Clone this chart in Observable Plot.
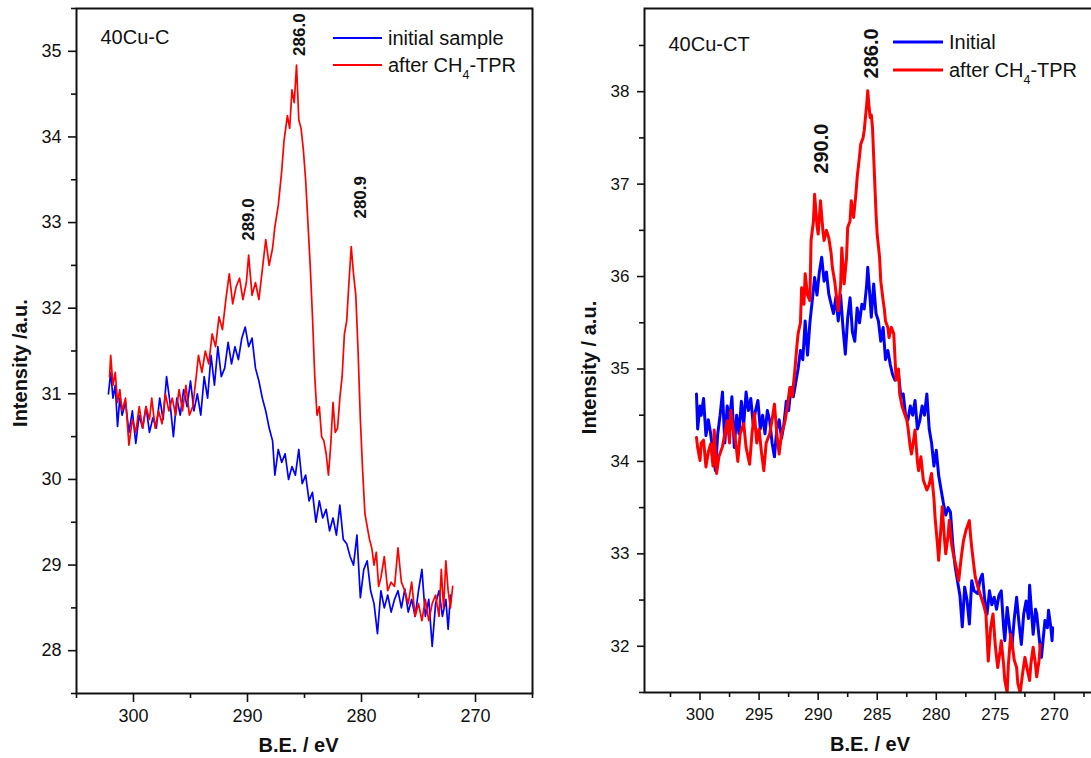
<!DOCTYPE html>
<html>
<head>
<meta charset="utf-8">
<script src="https://cdn.jsdelivr.net/npm/d3@7"></script>
<script src="https://cdn.jsdelivr.net/npm/@observablehq/plot@0.6"></script>
<style>
  html, body { margin: 0; padding: 0; background: #fff; overflow: hidden; }
  #wrap { position: relative; width: 1091px; height: 758px; overflow: hidden; background: #fff; }
  #left, #right { position: absolute; top: 0; height: 758px; }
  #left { left: 0; width: 545px; }
  #right { left: 545px; width: 580px; }
  #wrap svg { max-width: none !important; display: block; }
</style>
</head>
<body>
<div id="wrap"><div id="left"></div><div id="right"></div></div>
<script>
// ---------- Left panel: 40Cu-C ----------
const leftBlueE = [302.2,302.0,301.8,301.6,301.4,301.2,301.0,300.7,300.4,300.1,299.8,299.5,299.2,298.9,298.6,298.3,298.0,297.7,297.4,297.1,296.8,296.5,296.2,295.9,295.6,295.3,295.0,294.7,294.4,294.1,293.8,293.5,293.2,292.9,292.6,292.3,292.0,291.7,291.4,291.1,290.8,290.5,290.2,289.9,289.6,289.3,289.0,288.7,288.4,288.1,287.8,287.6,287.3,287.0,286.7,286.4,286.1,285.8,285.5,285.2,284.9,284.6,284.3,284.0,283.7,283.4,283.1,282.8,282.5,282.2,281.9,281.6,281.3,281.0,280.7,280.4,280.1,279.8,279.5,279.2,278.9,278.6,278.3,278.0,277.7,277.4,277.1,276.8,276.5,276.2,275.9,275.6,275.3,275.0,274.7,274.4,274.1,273.8,273.5,273.2,272.9,272.6,272.4,272.2];
const leftBlueI = [31.0,31.25,30.95,31.1,30.62,30.95,30.75,30.9,30.55,30.8,30.42,30.75,30.6,30.85,30.55,30.72,30.6,30.95,30.7,31.2,30.9,30.5,30.95,30.75,31.05,30.85,31.15,30.8,31.0,30.75,31.2,30.95,31.45,31.1,31.55,31.2,31.3,31.6,31.35,31.55,31.4,31.65,31.78,31.55,31.65,31.3,31.15,30.95,30.8,30.6,30.45,30.05,30.35,30.2,30.3,30.0,30.15,30.05,30.35,29.95,30.05,29.75,29.85,29.5,29.75,29.55,29.65,29.4,29.55,29.35,29.7,29.3,29.25,29.1,29.0,29.35,28.62,28.95,29.05,28.7,28.55,28.2,28.7,28.5,28.65,28.45,28.6,28.7,28.5,28.72,28.45,28.6,28.4,28.7,28.95,28.4,28.6,28.05,28.55,28.7,28.4,28.6,28.25,28.65];
const leftRedE = [302.1,302.0,301.8,301.6,301.4,301.2,301.0,300.7,300.4,300.1,299.8,299.5,299.2,298.9,298.6,298.4,298.1,297.8,297.5,297.2,296.9,296.6,296.3,296.0,295.7,295.4,295.1,294.8,294.5,294.3,294.0,293.7,293.4,293.1,292.8,292.5,292.2,291.9,291.6,291.3,291.0,290.7,290.4,290.1,289.9,289.6,289.3,289.0,288.7,288.4,288.1,287.8,287.6,287.3,287.0,286.8,286.5,286.3,286.1,285.9,285.7,285.5,285.3,285.1,284.9,284.7,284.5,284.3,284.1,283.9,283.7,283.5,283.3,283.1,282.9,282.7,282.5,282.3,282.1,281.9,281.7,281.5,281.3,281.1,280.9,280.7,280.5,280.3,280.1,279.9,279.7,279.5,279.3,279.1,278.9,278.7,278.5,278.3,278.0,277.7,277.4,277.1,276.8,276.5,276.2,275.9,275.6,275.3,275.0,274.7,274.4,274.1,273.8,273.5,273.2,273.0,272.8,272.6,272.4,272.2,272.0];
const leftRedI = [31.2,31.45,31.1,31.25,30.9,31.05,30.8,30.95,30.4,30.7,30.55,30.85,30.6,30.85,30.7,30.95,30.6,30.8,30.65,31.0,30.8,30.95,30.75,31.05,30.8,31.1,30.75,30.85,31.2,31.45,31.25,31.5,31.35,31.7,31.55,31.9,31.75,32.1,32.4,32.05,32.25,32.35,32.1,32.3,32.62,32.15,32.3,32.1,32.45,32.8,32.5,32.7,32.95,33.2,33.6,33.95,34.25,34.1,34.55,34.4,34.84,34.2,34.1,33.85,33.5,33.0,32.5,31.9,31.2,30.75,30.85,30.5,30.45,30.3,30.05,30.4,30.9,30.55,30.6,30.95,31.2,31.7,31.85,32.3,32.72,32.4,32.15,31.5,30.7,30.1,29.6,29.45,29.3,29.2,29.0,29.15,28.75,28.85,29.1,28.7,28.8,28.75,29.2,28.8,28.7,28.55,28.8,28.4,28.55,28.35,28.6,28.35,28.55,28.65,28.4,28.95,28.5,29.05,28.7,28.5,28.75];
const leftPeakE = [285.4, 289.9, 280.1];
const leftPeakI = [34.9, 32.74, 33.0];
const leftPeakText = ["286.0", "289.0", "280.9"];
const leftXMajor = [300, 290, 280, 270];
const leftXMinor = [305, 295, 285, 275, 265];
const leftYMajor = [28, 29, 30, 31, 32, 33, 34, 35];
const leftYMinor = [27.5, 28.5, 29.5, 30.5, 31.5, 32.5, 33.5, 34.5, 35.5];
const leftSeries = ["initial sample", "after CH4-TPR"];

// ---------- Right panel: 40Cu-CT ----------
const rightBlueE = [300.3,300.2,300.0,299.9,299.7,299.5,299.3,299.1,298.9,298.7,298.5,298.3,298.1,297.9,297.7,297.5,297.3,297.1,296.9,296.7,296.5,296.3,296.1,295.9,295.7,295.5,295.3,295.1,294.9,294.7,294.5,294.3,294.1,293.9,293.7,293.5,293.3,293.1,292.9,292.7,292.5,292.3,292.1,291.9,291.7,291.5,291.3,291.1,290.9,290.7,290.5,290.3,290.1,289.9,289.7,289.5,289.3,289.1,288.9,288.7,288.5,288.3,288.1,287.9,287.7,287.5,287.3,287.1,286.9,286.7,286.5,286.3,286.1,285.9,285.8,285.6,285.5,285.3,285.1,284.9,284.7,284.5,284.3,284.1,283.9,283.7,283.5,283.2,283.0,282.8,282.6,282.4,282.2,282.0,281.8,281.6,281.4,281.2,281.0,280.8,280.6,280.4,280.2,280.0,279.8,279.6,279.4,279.2,279.0,278.8,278.6,278.4,278.2,278.0,277.8,277.6,277.4,277.2,277.0,276.8,276.5,276.3,276.1,275.9,275.7,275.5,275.3,275.1,274.9,274.7,274.5,274.3,274.2,274.0,273.8,273.6,273.4,273.2,273.0,272.8,272.6,272.4,272.2,272.1,271.9,271.8,271.6,271.5,271.3,271.1,270.9,270.8,270.6,270.5,270.3,270.2,270.15];
const rightBlueI = [34.73,34.35,34.6,34.5,34.68,34.28,34.45,34.3,34.1,33.9,34.3,34.5,34.75,34.2,34.6,34.45,34.7,34.15,34.5,34.3,34.65,34.4,34.75,34.55,34.68,34.4,34.55,34.66,34.35,34.5,34.3,34.55,34.44,34.2,34.05,34.35,34.45,34.25,34.4,34.65,34.55,34.8,34.7,34.85,35.0,35.2,35.1,35.52,35.15,35.5,35.74,35.99,35.8,36.05,36.21,35.95,36.05,35.81,35.7,35.6,35.78,35.52,35.8,35.45,35.16,35.55,35.77,35.4,35.3,35.66,35.5,35.7,35.65,35.9,36.1,35.75,35.56,35.92,35.6,35.52,35.3,35.45,35.1,35.2,35.05,34.94,34.88,34.95,34.7,34.73,34.5,34.45,34.6,34.5,34.66,34.35,34.44,34.6,34.5,34.73,34.35,34.2,33.95,34.12,33.85,33.7,33.55,33.42,33.5,33.45,33.1,32.86,32.7,32.55,32.21,32.64,32.5,32.24,32.71,32.6,32.57,32.72,32.78,32.5,32.35,32.6,32.45,32.53,32.4,32.55,32.6,32.2,32.06,32.42,32.2,31.99,32.3,32.53,32.25,32.02,32.35,32.49,32.3,32.66,32.3,32.13,32.4,32.35,32.1,31.88,32.15,32.28,32.2,32.39,32.2,32.06,32.2];
const rightRedE = [300.3,300.2,300.0,299.9,299.7,299.5,299.3,299.1,298.9,298.8,298.6,298.4,298.1,297.9,297.7,297.5,297.4,297.2,297.0,296.8,296.6,296.3,296.1,295.8,295.6,295.4,295.2,295.0,294.8,294.6,294.4,294.1,293.9,293.7,293.5,293.3,293.1,292.8,292.6,292.4,292.2,292.0,291.8,291.7,291.5,291.4,291.2,291.1,290.9,290.7,290.6,290.4,290.3,290.1,290.0,289.8,289.6,289.5,289.3,289.1,288.9,288.8,288.6,288.5,288.3,288.1,288.0,287.8,287.6,287.5,287.3,287.2,287.0,286.8,286.7,286.5,286.4,286.2,286.1,285.9,285.8,285.7,285.6,285.5,285.4,285.3,285.1,285.0,284.8,284.7,284.5,284.4,284.3,284.1,284.0,283.8,283.6,283.4,283.2,283.1,282.9,282.7,282.5,282.4,282.2,282.1,281.9,281.8,281.6,281.5,281.3,281.1,280.8,280.6,280.4,280.2,280.1,279.9,279.8,279.6,279.5,279.3,279.2,279.0,278.9,278.7,278.5,278.3,278.1,277.9,277.7,277.5,277.2,277.1,277.0,276.8,276.7,276.5,276.2,276.0,275.8,275.7,275.6,275.4,275.2,275.0,274.8,274.6,274.5,274.3,274.2,274.0,273.9,273.7,273.5,273.4,273.2,273.1,272.9,272.7,272.5,272.3,272.1,272.0,271.8,271.6,271.5,271.3,271.2];
const rightRedI = [34.26,34.15,34.01,34.2,34.23,33.94,34.1,34.19,33.95,34.34,33.87,34.05,34.16,34.3,34.44,34.2,34.55,34.35,34.23,34.0,34.3,34.41,34.15,33.97,34.3,34.52,34.2,34.35,34.1,33.9,34.2,34.3,34.45,34.62,34.3,34.08,34.3,34.44,34.6,34.8,34.7,34.95,35.25,35.38,35.5,35.88,35.7,36.03,35.8,35.74,36.39,36.6,36.89,36.55,36.46,36.82,36.5,36.39,36.5,36.42,36.25,36.1,35.95,35.84,35.63,35.9,36.31,35.92,36.2,36.53,36.6,36.82,36.64,36.9,37.07,37.3,37.43,37.5,37.58,37.85,38.01,37.85,37.72,37.75,37.61,37.3,36.68,36.45,36.21,35.95,35.74,35.65,35.52,35.45,35.34,35.45,35.38,34.88,35.0,34.73,34.6,34.52,34.45,34.37,34.15,34.08,34.25,34.34,34.0,33.9,34.05,33.8,33.69,33.75,33.87,33.6,33.39,33.1,32.93,33.3,33.51,33.15,33.0,33.2,33.36,33.1,32.96,32.85,32.71,32.95,33.14,33.25,33.36,33.2,33.07,32.85,32.75,32.65,32.53,32.45,32.35,32.1,31.84,32.2,32.35,32.0,31.77,31.95,32.06,31.8,31.63,31.5,31.8,32.13,31.95,31.85,31.77,31.6,31.5,31.7,31.88,31.75,31.63,31.8,31.99,31.8,31.67,31.85,32.02];
const rightPeakE = [285.5, 289.7];
const rightPeakI = [38.1, 37.07];
const rightPeakText = ["286.0", "290.0"];
const rightXMajor = [300, 295, 290, 285, 280, 275, 270];
const rightXMinor = [302.5, 297.5, 292.5, 287.5, 282.5, 277.5, 272.5, 267.5];
const rightYMajor = [32, 33, 34, 35, 36, 37, 38];
const rightYMinor = [31.5, 32.5, 33.5, 34.5, 35.5, 36.5, 37.5, 38.5];
const rightSeries = ["Initial", "after CH4-TPR"];

const BLUE = "#0000ff", RED = "#ff0000";
const FONT = "'Liberation Sans', Arial, Helvetica, sans-serif";
const pts = (E, I) => E.map((e, i) => ({E: e, I: I[i]}));
const peaks = (E, I, T) => E.map((e, i) => ({E: e, I: I[i], t: T[i]}));

function addLegend(svg, x0, y0, rowH, lineLen, fontSize, sw, labels) {
  const g = d3.select(svg).append("g")
    .attr("font-family", FONT).attr("font-size", fontSize).attr("text-anchor", "start");
  [BLUE, RED].forEach((c, i) => {
    const y = y0 + i * rowH;
    g.append("line").attr("x1", x0).attr("x2", x0 + lineLen).attr("y1", y).attr("y2", y)
      .attr("stroke", c).attr("stroke-width", sw);
    const t = g.append("text").attr("x", x0 + lineLen + 6).attr("y", y).attr("dy", "0.36em")
      .attr("fill", "#111").attr("text-anchor", "start");
    const lab = labels[i];
    const m = lab.match(/^(.*CH)4(.*)$/);
    if (m) {
      t.append("tspan").text(m[1]);
      t.append("tspan").attr("font-size", fontSize * 0.62).attr("dy", 7).text("4");
      t.append("tspan").attr("dy", -7).text(m[2]);
    } else {
      t.text(lab);
    }
  });
}

// ----- Left plot -----
const left = Plot.plot({
  width: 545, height: 758,
  marginLeft: 76, marginRight: 13, marginTop: 8, marginBottom: 65,
  x: {domain: [305, 265]},
  y: {domain: [27.5, 35.5]},
  style: {fontFamily: FONT, background: "#fff", color: "#111"},
  marks: [
    Plot.line(pts(leftBlueE, leftBlueI), {x: "E", y: "I", stroke: BLUE, strokeWidth: 1.7, clip: true}),
    Plot.line(pts(leftRedE, leftRedI), {x: "E", y: "I", stroke: RED, strokeWidth: 1.7, clip: true}),
    Plot.text(peaks(leftPeakE, leftPeakI, leftPeakText), {x: "E", y: "I", text: "t", rotate: -90, textAnchor: "start", lineAnchor: "middle", fontSize: 17, fontWeight: "bold", fill: "#111", dy: -4}),
    Plot.text(["40Cu-C"], {frameAnchor: "top-left", dx: 24, dy: 29, textAnchor: "start", lineAnchor: "middle", fontSize: 20, fill: "#111"}),
    Plot.axisX({ticks: leftXMajor, tickSize: 9, tickPadding: 7, fontSize: 18, strokeWidth: 1.6, label: null, tickFormat: d => String(d)}),
    Plot.axisX({ticks: leftXMinor, tickSize: 5, strokeWidth: 1.6, label: null, tickFormat: () => ""}),
    Plot.axisY({ticks: leftYMajor, tickSize: 8, tickPadding: 7, fontSize: 18, strokeWidth: 1.6, label: null, tickFormat: d => String(d)}),
    Plot.axisY({ticks: leftYMinor, tickSize: 5, strokeWidth: 1.6, label: null, tickFormat: () => ""}),
    Plot.text(["B.E. / eV"], {frameAnchor: "bottom", dx: -6, dy: 52, textAnchor: "middle", lineAnchor: "middle", fontSize: 20, fontWeight: "bold", fill: "#111"}),
    Plot.text(["Intensity /a.u."], {frameAnchor: "left", dx: -56, dy: 12, rotate: -90, textAnchor: "middle", lineAnchor: "middle", fontSize: 20, fontWeight: "bold", fill: "#111"}),
    Plot.frame({stroke: "#111", strokeWidth: 2})
  ]
});
addLegend(left, 333, 38, 27, 49, 20, 1.8, leftSeries);
document.getElementById("left").appendChild(left);

// ----- Right plot -----
const right = Plot.plot({
  width: 580, height: 758,
  marginLeft: 99, marginRight: 12, marginTop: 8, marginBottom: 66,
  x: {domain: [304.7, 265]},
  y: {domain: [31.5, 38.9]},
  style: {fontFamily: FONT, background: "#fff", color: "#111"},
  marks: [
    Plot.line(pts(rightBlueE, rightBlueI), {x: "E", y: "I", stroke: BLUE, strokeWidth: 3, clip: true}),
    Plot.line(pts(rightRedE, rightRedI), {x: "E", y: "I", stroke: RED, strokeWidth: 3, clip: true}),
    Plot.text(peaks(rightPeakE, rightPeakI, rightPeakText), {x: "E", y: "I", text: "t", rotate: -90, textAnchor: "start", lineAnchor: "middle", fontSize: 20, fontWeight: "bold", fill: "#111", dy: -4}),
    Plot.text(["40Cu-CT"], {frameAnchor: "top-left", dx: 24, dy: 36, textAnchor: "start", lineAnchor: "middle", fontSize: 20, fill: "#111"}),
    Plot.axisX({ticks: rightXMajor, tickSize: 8, tickPadding: 7, fontSize: 17, strokeWidth: 1.6, label: null, tickFormat: d => String(d)}),
    Plot.axisX({ticks: rightXMinor, tickSize: 5, strokeWidth: 1.6, label: null, tickFormat: () => ""}),
    Plot.axisY({ticks: rightYMajor, tickSize: 7, tickPadding: 8, fontSize: 17, strokeWidth: 1.6, label: null, tickFormat: d => String(d)}),
    Plot.axisY({ticks: rightYMinor, tickSize: 5, strokeWidth: 1.6, label: null, tickFormat: () => ""}),
    Plot.text(["B.E. / eV"], {frameAnchor: "bottom", dx: -9, dy: 52, textAnchor: "middle", lineAnchor: "middle", fontSize: 20, fontWeight: "bold", fill: "#111"}),
    Plot.text(["Intensity / a.u."], {frameAnchor: "left", dx: -55, dy: 17, rotate: -90, textAnchor: "middle", lineAnchor: "middle", fontSize: 20, fontWeight: "bold", fill: "#111"}),
    Plot.frame({stroke: "#111", strokeWidth: 2})
  ]
});
addLegend(right, 348, 42, 28, 50, 20, 3, rightSeries);
document.getElementById("right").appendChild(right);
</script>
</body>
</html>
